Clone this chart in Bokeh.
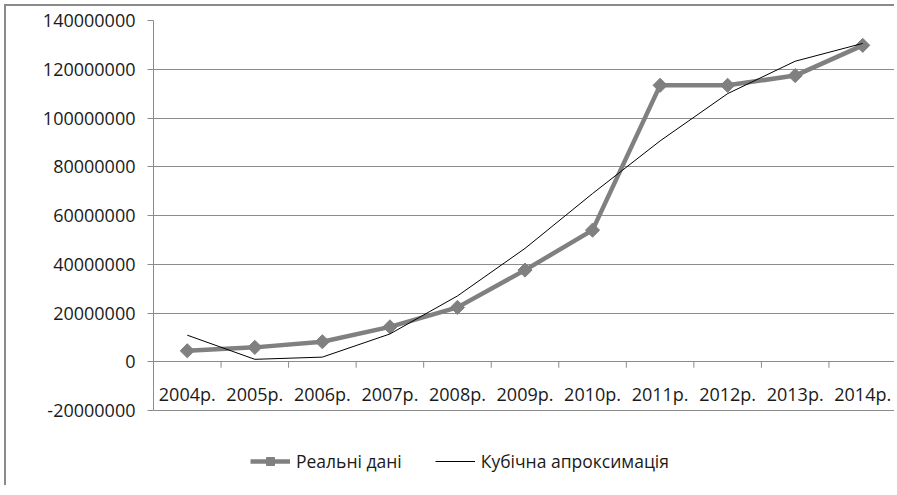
from bokeh.plotting import figure
from bokeh.models import Range1d, FixedTicker, NumeralTickFormatter, Legend, LegendItem
from bokeh.core.properties import value
from bokeh.embed import file_html
from bokeh.resources import INLINE

years = ["2004р.", "2005р.", "2006р.", "2007р.", "2008р.", "2009р.", "2010р.",
         "2011р.", "2012р.", "2013р.", "2014р."]
real_values = [4.5e6, 5.9e6, 8.2e6, 14.3e6, 22.3e6, 37.6e6, 54.0e6,
               113.4e6, 113.4e6, 117.4e6, 129.8e6]
cubic_values = [10.9e6, 1.0e6, 1.9e6, 11.4e6, 27.0e6, 46.5e6, 69.0e6,
                90.6e6, 110.0e6, 123.3e6, 130.6e6]
y_ticks = [-20000000, 0, 20000000, 40000000, 60000000, 80000000,
           100000000, 120000000, 140000000]

GRAY = "#8c8c8c"
SERIES = "#808080"
FONT = "Open Sans"
TEXT = "#1a1a1a"

W, H = 890, 481
TOP, LEFT = 14, 147
PX_PER_UNIT = 390.0 / (y_ticks[-1] - y_ticks[0])      # frame scale (px per value unit)
y_low = y_ticks[-1] - (H - TOP) / PX_PER_UNIT         # extend frame down to hold the legend
tick_len = 6 / PX_PER_UNIT

x = [i + 0.5 for i in range(len(years))]
bounds = [i for i in range(1, len(years))]
zeros_x = [0] * len(years)
zeros_b = [0] * len(bounds)
tick_ends = [-tick_len] * len(bounds)

p = figure(width=W, height=H,
           x_range=Range1d(0, len(years)),
           y_range=Range1d(y_low, y_ticks[-1]),
           output_backend="svg", toolbar_location=None,
           x_axis_location=None, y_axis_location="left",
           min_border_left=LEFT, min_border_top=TOP, min_border_bottom=0,
           min_border_right=0, outline_line_color=None,
           background_fill_color="white", border_fill_color="white",
           styles={"margin-left": "4px", "margin-top": "4px",
                   "border-left": "2px solid #8a8a8a",
                   "border-top": "2px solid #8a8a8a"})

p.xgrid.visible = False

ya = p.yaxis[0]
ya.ticker = FixedTicker(ticks=y_ticks)
ya.formatter = NumeralTickFormatter(format="0")
ya.bounds = (y_ticks[0], y_ticks[-1])
ya.major_tick_out = 6
ya.major_tick_in = 0
ya.minor_tick_out = 0
ya.minor_tick_in = 0
ya.axis_line_color = GRAY
ya.major_tick_line_color = GRAY
ya.major_label_standoff = 12
ya.major_label_text_font = FONT
ya.major_label_text_font_size = "18px"
ya.major_label_text_color = TEXT

p.ygrid.ticker = FixedTicker(ticks=y_ticks)
p.ygrid.grid_line_color = GRAY

# category tick marks hanging under the zero line
p.segment(x0=bounds, y0=zeros_b, x1=bounds, y1=tick_ends,
          line_color=GRAY, line_width=1)
# category labels between the zero line and the lowest gridline
p.text(x=x, y=zeros_x, text=years, y_offset=20, text_align="center",
       text_baseline="top", text_font=value(FONT), text_font_size=value("18px"),
       text_color=TEXT)

r_line = p.line(x, real_values, line_color=SERIES, line_width=4.5)
r_pts = p.scatter(x, real_values, marker="square", angle=0.785398, size=10,
                  fill_color=SERIES, line_color=SERIES)
r_cubic = p.line(x, cubic_values, line_color="black", line_width=1)

legend = Legend(items=[LegendItem(label="Реальні дані", renderers=[r_line, r_pts]),
                       LegendItem(label="Кубічна апроксимація", renderers=[r_cubic])],
                orientation="horizontal", location=(97, 14),
                glyph_width=40, spacing=33, label_standoff=6,
                label_text_font=FONT, label_text_font_size="17.5px",
                label_text_color=TEXT,
                border_line_color=None, background_fill_alpha=0,
                padding=0, margin=0)
p.add_layout(legend)

open("out.html", "w").write(file_html(p, INLINE))
